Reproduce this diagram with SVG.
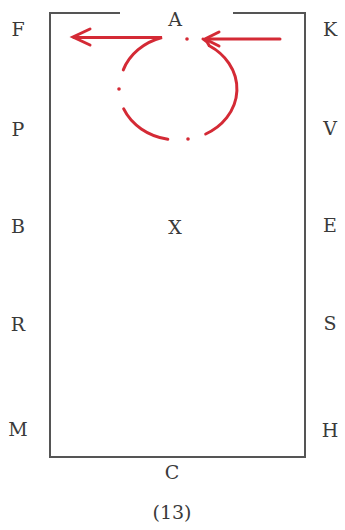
<svg xmlns="http://www.w3.org/2000/svg" width="345" height="530" viewBox="0 0 345 530">
  <style>
    .lbl { font-family: "DejaVu Serif", "Liberation Serif", serif; font-size: 19px; fill: #3a3a3a; text-anchor: middle; }
    .arena { stroke: #555; stroke-width: 2; fill: none; }
    .route { stroke: #d42a35; stroke-width: 3; fill: none; stroke-linecap: round; }
    .dot { fill: #d42a35; }
  </style>
  <rect width="345" height="530" fill="#fff"/>
  <g id="arena">
    <path class="arena" d="M120,13 H50 V457 H305 V13 H233"/>
  </g>
  <g id="letters">
    <text id="lbl-A" class="lbl" x="175" y="26">A</text>
    <text id="lbl-F" class="lbl" x="18" y="36">F</text>
    <text id="lbl-K" class="lbl" x="330" y="36">K</text>
    <text id="lbl-P" class="lbl" x="18" y="136">P</text>
    <text id="lbl-V" class="lbl" x="330" y="135">V</text>
    <text id="lbl-B" class="lbl" x="18" y="233">B</text>
    <text id="lbl-X" class="lbl" x="175" y="234">X</text>
    <text id="lbl-E" class="lbl" x="330" y="232">E</text>
    <text id="lbl-R" class="lbl" x="18" y="331">R</text>
    <text id="lbl-S" class="lbl" x="330" y="330">S</text>
    <text id="lbl-M" class="lbl" x="18" y="436">M</text>
    <text id="lbl-H" class="lbl" x="330" y="437">H</text>
    <text id="lbl-C" class="lbl" x="172" y="479">C</text>
    <text id="lbl-13" class="lbl" x="172" y="519">(13)</text>
  </g>
  <g id="connectors">
    <path class="route" d="M280,39 H207"/>
    <path class="route" d="M219,32 L205,39 L219,46"/>
    <path class="route" d="M205.7,134 A59,51 0 0 0 209.3,45.8 Q207,41 203,39"/>
    <path class="route" d="M123.7,108.9 A59,51 0 0 0 167.8,139.2"/>
    <path class="route" d="M123.3,69.9 A59,51 0 0 1 162,37.5 H74"/>
    <path class="route" d="M90,29 L73,37 L90,45"/>
    <circle class="dot" cx="119" cy="89" r="1.8"/>
    <circle class="dot" cx="188" cy="139" r="1.8"/>
    <circle class="dot" cx="187" cy="39" r="1.8"/>
  </g>
</svg>
